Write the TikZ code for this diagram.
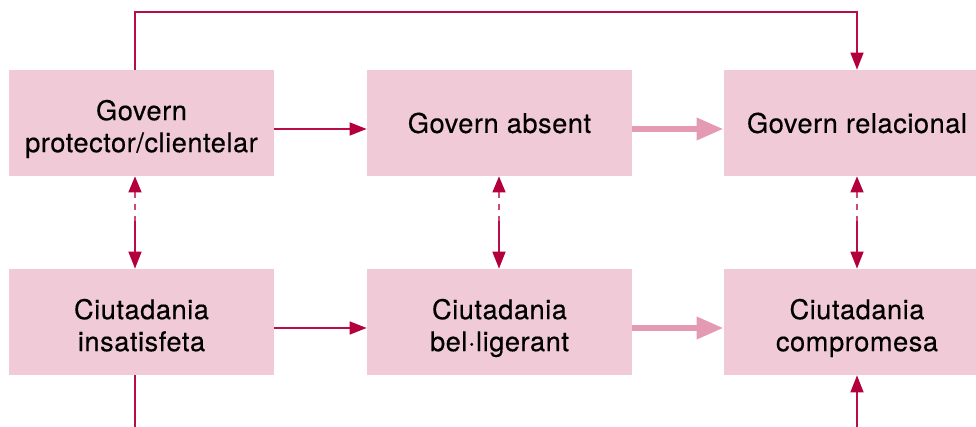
\documentclass[tikz,border=0pt]{standalone}
\usepackage{fontspec}
\setmainfont{TeX Gyre Heros}[LetterSpace=2,FakeBold=0.4]
\usetikzlibrary{arrows.meta}
\definecolor{boxpink}{HTML}{F0CAD7}
\definecolor{linered}{HTML}{B80D45}
\definecolor{dashred}{HTML}{CC4A76}
\definecolor{tipred}{HTML}{B3003C}
\definecolor{flowpink}{HTML}{E39AB2}
\tikzset{
  stage/.style={fill=boxpink, draw=none, align=center, inner sep=0pt,
    minimum height=53pt, font=\fontsize{13.6pt}{16pt}\selectfont},
  label/.style={stage, fill=none, minimum height=0pt},
  twoline/.style={text depth=0pt, yshift=-1.5pt},
  thinlink/.style={draw=linered, line width=0.8pt},
  thintip/.style={-{Triangle[length=8.5pt,width=6.5pt,fill=tipred,color=tipred]}},
  backtip/.style={{Triangle[length=8pt,width=6.5pt,fill=tipred,color=tipred]}-},
  flowlink/.style={draw=flowpink, line width=3.2pt,
    -{Triangle[length=13.5pt,width=10.5pt,fill=flowpink,color=flowpink]}},
  dashpart/.style={draw=dashred, line width=0.8pt, dash pattern=on 3pt off 3pt},
}
\begin{document}
\begin{tikzpicture}[x=0.5pt,y=-0.5pt]
\useasboundingbox (0,0) rectangle (976,427);
% column and row guides
\coordinate (colL) at (135,0);
\coordinate (colM) at (499,0);
\coordinate (colR) at (857,0);
\coordinate (topline) at (0,12);
\coordinate (bottomedge) at (0,427);
\coordinate (rowA) at (0,129);
\coordinate (rowB) at (0,328);
\coordinate (midA) at (0,221);
% boxes
\node[stage, minimum width=132.5pt] (a) at (141.5,123) {};
\node[stage, minimum width=132.5pt] (b) at (499.5,123) {};
\node[stage, minimum width=126pt]   (c) at (850,123)   {};
\node[stage, minimum width=132.5pt] (d) at (141.5,322) {};
\node[stage, minimum width=132.5pt] (e) at (499.5,322) {};
\node[stage, minimum width=126pt]   (f) at (850,322)   {};
% labels; the right-hand column is centred on its connector line
\node[label]          (at) at (a) [twoline] {Govern\\protector/clientelar};
\node[label]          (bt) at (b) {Govern absent};
\node[label]          (ct) at (colR |- c) {Govern relacional};
\node[label, twoline] (dt) at (d) {Ciutadania\\insatisfeta};
\node[label, twoline] (et) at (e) {Ciutadania\\bel·ligerant};
\node[label, twoline] (ft) at (colR |- f) {Ciutadania\\compromesa};
% loop over the top
\draw[thinlink, thintip] (a.north -| colL) -- (colL |- topline) -| (c.north -| colR);
% horizontal links
\draw[thinlink, thintip] (a.east |- rowA) -- (b.west |- rowA);
\draw[thinlink, thintip] (d.east |- rowB) -- (e.west |- rowB);
\draw[flowlink] (b.east |- rowA) -- (c.west |- rowA);
\draw[flowlink] (e.east |- rowB) -- (f.west |- rowB);
% vertical two-way links
\foreach \col/\up/\dn in {colL/a/d, colM/b/e, colR/c/f}{
  \draw[dashpart, backtip] (\up.south -| \col) -- (\col |- midA);
  \draw[thinlink, thintip] (\col |- midA) -- (\dn.north -| \col);
}
% links leaving through the bottom
\draw[thinlink] (d.south -| colL) -- (colL |- bottomedge);
\draw[thinlink, thintip] (colR |- bottomedge) -- (f.south -| colR);
\end{tikzpicture}
\end{document}
